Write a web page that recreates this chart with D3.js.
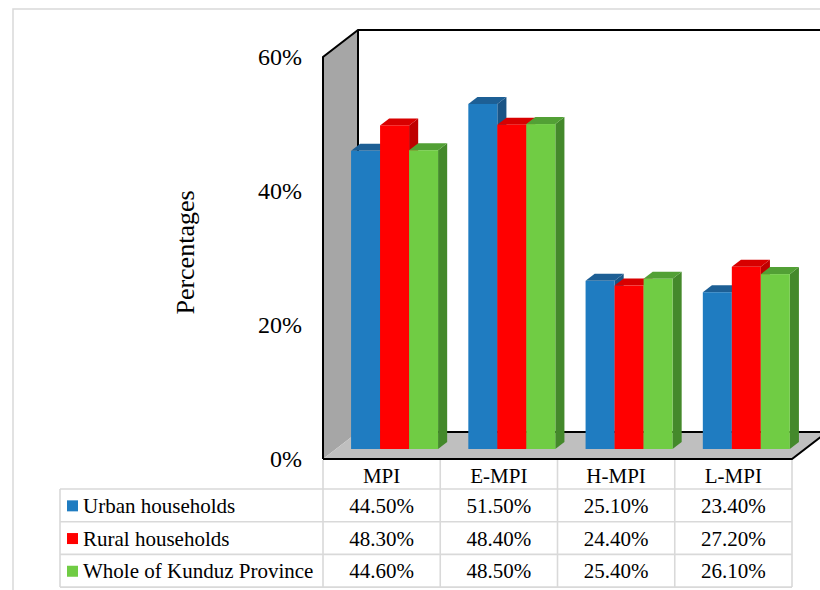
<!DOCTYPE html>
<html>
<head>
<meta charset="utf-8">
<script src="https://cdn.jsdelivr.net/npm/d3@7"></script>
<style>
  html, body { margin: 0; padding: 0; background: #fff; }
  svg { display: block; }
</style>
</head>
<body>
<svg id="chart" width="820" height="590"></svg>
<script>
// Multidimensional poverty indices by household type
const categories = ["MPI", "E-MPI", "H-MPI", "L-MPI"];
const seriesNames = ["Urban households", "Rural households", "Whole of Kunduz Province"];
const urbanValues = [44.5, 51.5, 25.1, 23.4];
const ruralValues = [48.3, 48.4, 24.4, 27.2];
const wholeValues = [44.6, 48.5, 25.4, 26.1];
const yTicks = [0, 20, 40, 60];

const seriesValues = [urbanValues, ruralValues, wholeValues];
const frontColors = ["#1f7cc1", "#ff0000", "#70cc44"];
const topColors   = ["#1d5f95", "#d80000", "#52a035"];
const sideColors  = ["#1a5485", "#bf0000", "#44892b"];

const fontFamily = "'Liberation Serif', 'DejaVu Serif', 'Times New Roman', Times, serif";

const svg = d3.select("#chart").attr("font-family", fontFamily);

// Plot box (front plane) and 3D depth offset
const plotLeft = 323, plotRight = 792, plotBottom = 459, plotTop = 57;
const depthX = 35, depthY = -27;
const barPlane = 0.37;      // fraction of the depth where bar fronts sit
const barDepth = 0.26;      // fraction of the depth taken by each bar

const x0 = d3.scaleBand().domain(categories).range([plotLeft, plotRight]).padding(0);
const x1 = d3.scaleBand().domain(d3.range(seriesNames.length))
  .range([x0.bandwidth() * 0.129, x0.bandwidth() * 0.871]).padding(0);
const y = d3.scaleLinear().domain([0, 60]).range([plotBottom, plotTop]);

// Outer frame
svg.append("rect")
  .attr("x", 13).attr("y", 9).attr("width", 830).attr("height", 600)
  .attr("fill", "none").attr("stroke", "#d9d9d9").attr("stroke-width", 1.5);

const line = d3.line();

// Left wall
svg.append("path")
  .attr("d", line([[plotLeft, plotBottom], [plotLeft, plotTop], [plotLeft + depthX, plotTop + depthY], [plotLeft + depthX, plotBottom + depthY]]) + "Z")
  .attr("fill", "#a6a6a6");

// Floor
svg.append("path")
  .attr("d", line([[plotLeft, plotBottom], [plotRight, plotBottom], [plotRight + depthX, plotBottom + depthY], [plotLeft + depthX, plotBottom + depthY]]) + "Z")
  .attr("fill", "#bfbfbf");

// Wall and floor edges
const edges = [
  [[plotLeft, plotBottom], [plotLeft, plotTop], [plotLeft + depthX, plotTop + depthY], [plotRight + depthX + 10, plotTop + depthY]],
  [[plotLeft + depthX, plotTop + depthY], [plotLeft + depthX, plotBottom + depthY], [plotRight + depthX + 10, plotBottom + depthY]],
  [[plotLeft, plotBottom], [plotRight, plotBottom], [plotRight + depthX, plotBottom + depthY]]
];
svg.append("g").selectAll("path").data(edges).join("path")
  .attr("d", d => line(d))
  .attr("fill", "none").attr("stroke", "#000").attr("stroke-width", 2)
  .attr("stroke-linejoin", "miter");

// Bars in the mid-depth plane
const px = depthX * barPlane, py = depthY * barPlane;
const bx = depthX * barDepth, by = depthY * barDepth;
const yBar = d3.scaleLinear().domain(y.domain()).range([plotBottom + py, plotTop + py]);

const bars = [];
categories.forEach((c, ci) => {
  seriesValues.forEach((vals, si) => {
    bars.push({ c, si, v: vals[ci] });
  });
});

const barG = svg.append("g");
bars.forEach(d => {
  const xl = x0(d.c) + x1(d.si) + px;
  const xr = xl + x1.bandwidth();
  const yt = yBar(d.v);
  const yb = yBar(0);
  const g = barG.append("g");
  g.append("path")
    .attr("d", line([[xr, yb], [xr, yt], [xr + bx, yt + by], [xr + bx, yb + by]]) + "Z")
    .attr("fill", sideColors[d.si]);
  g.append("path")
    .attr("d", line([[xl, yt], [xr, yt], [xr + bx, yt + by], [xl + bx, yt + by]]) + "Z")
    .attr("fill", topColors[d.si]);
  g.append("rect")
    .attr("x", xl).attr("y", yt).attr("width", x1.bandwidth()).attr("height", yb - yt)
    .attr("fill", frontColors[d.si]);
});

// Y axis tick labels
svg.append("g").selectAll("text").data(yTicks).join("text")
  .attr("x", 302).attr("y", d => y(d))
  .attr("text-anchor", "end").attr("dominant-baseline", "central")
  .attr("font-family", fontFamily)
  .attr("font-size", 24).attr("fill", "#000")
  .text(d => d + "%");

// Y axis title
svg.append("text")
  .attr("transform", "translate(185,252.5) rotate(-90)")
  .attr("text-anchor", "middle").attr("dominant-baseline", "central")
  .attr("font-family", fontFamily)
  .attr("font-size", 26).attr("fill", "#000")
  .text("Percentages");

// Data table under the plot
const tableLeft = 60, headerBottom = 489, rowH = 32.7;
const grid = svg.append("g").attr("stroke", "#d9d9d9").attr("stroke-width", 1.6).attr("fill", "none");
const tableBottom = headerBottom + rowH * seriesNames.length;

// Column separators
const colEdges = categories.map(c => x0(c)).concat([plotRight]);
grid.selectAll("line.col").data(colEdges).join("line")
  .attr("class", "col")
  .attr("x1", d => d).attr("x2", d => d)
  .attr("y1", plotBottom + 1).attr("y2", tableBottom);
grid.append("line")
  .attr("x1", tableLeft).attr("x2", tableLeft)
  .attr("y1", headerBottom).attr("y2", tableBottom);
// Row separators
const rowEdges = d3.range(seriesNames.length + 1).map(i => headerBottom + i * rowH);
grid.selectAll("line.row").data(rowEdges).join("line")
  .attr("class", "row")
  .attr("x1", tableLeft).attr("x2", plotRight)
  .attr("y1", d => d).attr("y2", d => d);

// Category header
svg.append("g").selectAll("text").data(categories).join("text")
  .attr("x", d => x0(d) + x0.bandwidth() / 2).attr("y", 476)
  .attr("text-anchor", "middle").attr("dominant-baseline", "central")
  .attr("font-family", fontFamily)
  .attr("font-size", 21).attr("fill", "#000")
  .text(d => d);

const fmt = d3.format(".2f");
seriesNames.forEach((name, si) => {
  const cy = headerBottom + rowH * si + rowH / 2 + 0.5;
  svg.append("rect")
    .attr("x", 67).attr("y", cy - 5.5).attr("width", 11).attr("height", 11)
    .attr("fill", frontColors[si]);
  svg.append("text")
    .attr("x", 83).attr("y", cy)
    .attr("dominant-baseline", "central")
    .attr("font-family", fontFamily)
    .attr("font-size", 21).attr("fill", "#000")
    .text(name);
  svg.append("g").selectAll("text").data(categories).join("text")
    .attr("x", d => x0(d) + x0.bandwidth() / 2).attr("y", cy)
    .attr("text-anchor", "middle").attr("dominant-baseline", "central")
    .attr("font-family", fontFamily)
    .attr("font-size", 21).attr("fill", "#000")
    .text((d, ci) => fmt(seriesValues[si][ci]) + "%");
});
</script>
</body>
</html>
